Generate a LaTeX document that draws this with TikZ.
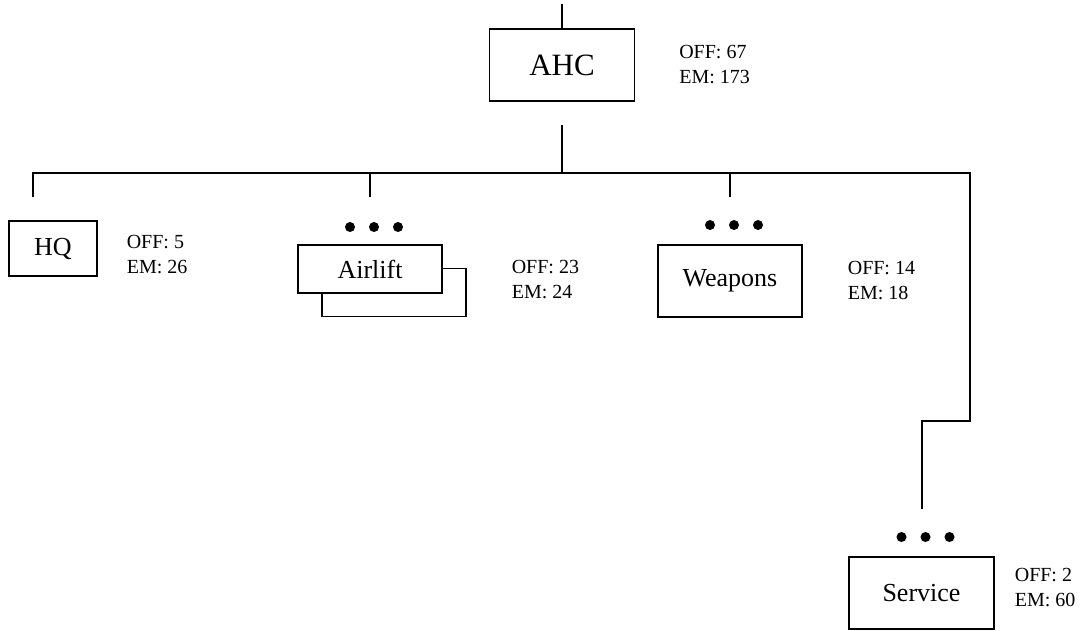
\documentclass[tikz,border=0pt]{standalone}
\usepackage{fontspec}
\setmainfont{Liberation Serif}
\usetikzlibrary{positioning}

\begin{document}
\begin{tikzpicture}[
        x=1pt, y=-1pt,
        node distance=30pt,
        every path/.style={line width=1.8pt},
        unit/.style={draw, fill=white, line width=1.8pt, inner sep=0pt, minimum width=144pt, minimum height=72pt, font=\fontsize{26}{31}\selectfont},
        info/.style={align=left, inner sep=0pt, font=\fontsize{20}{25}\selectfont}
    ]
    \useasboundingbox (0,0) rectangle (1081,630);

    % Nodes
    \node (ahc)[unit, minimum width=145pt, font=\fontsize{31}{36}\selectfont] at (562,65) {AHC};
    \node (ahcinfo)[info, right=43pt of ahc] {OFF: 67\\EM: 173};

    \node (hq)[unit, minimum width=88pt, minimum height=55pt] at (53,248.5) {HQ};
    \node (hqinfo)[info, right=28pt of hq, yshift=-6pt] {OFF: 5\\EM: 26};

    \node (airback)[unit, minimum height=48pt] at (394,292.5) {};
    \node (air)[unit, minimum height=48pt] at (370,269) {Airlift};
    \node (airinfo)[info, right=68pt of air, yshift=-11pt] {OFF: 23\\EM: 24};

    \node (wpn)[unit] at (730,281) {Weapons};
    \node (wpninfo)[info, right=44pt of wpn] {OFF: 14\\EM: 18};

    \node (svc)[unit, minimum width=145pt] at (921.5,593) {Service};
    \node (svcinfo)[info, right=19pt of svc, yshift=5pt] {OFF: 2\\EM: 60};

    % Connector points
    \coordinate (top) at (562,4);
    \coordinate (stem) at (562,125);
    \coordinate (bus) at (562,173);
    \coordinate (busl) at (33,173);
    \coordinate (busr) at (970,173);
    \coordinate (hqtip) at (33,197);
    \coordinate (airtip) at (370,197);
    \coordinate (wpntip) at (730,197);
    \coordinate (bend) at (970,421);
    \coordinate (jog) at (922,421);
    \coordinate (svctip) at (922,509);

    % Edges
    \draw (top) -- (ahc.north);
    \draw (stem) -- (bus);
    \draw (hqtip) -- (busl) -- (busr) -- (bend) -- (jog) -- (svctip);
    \draw (bus -| airtip) -- (airtip);
    \draw (bus -| wpntip) -- (wpntip);

    % Dots
    \foreach \u/\y in {air/227, wpn/225, svc/537}
        \foreach \dx in {-20,4,28}
            \fill (\u |- 0,\y) ++(\dx,0) circle (5pt);

\end{tikzpicture}
\end{document}
